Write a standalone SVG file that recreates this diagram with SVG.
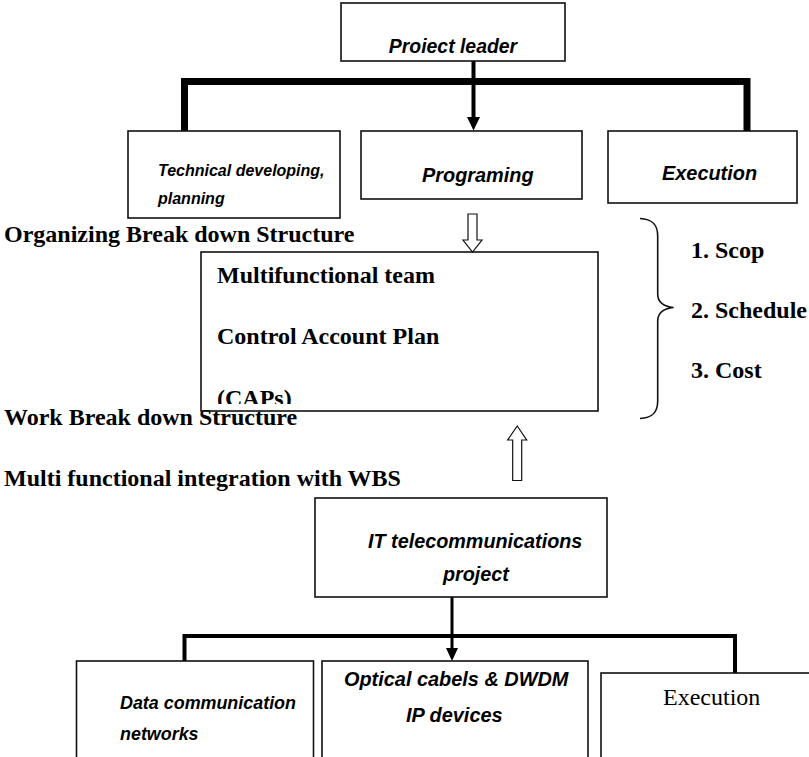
<svg xmlns="http://www.w3.org/2000/svg" width="809" height="757" viewBox="0 0 809 757">
<style>
.box{fill:#fff;stroke:#111;stroke-width:1.6}
.sans{font-family:"Liberation Sans",Arial,sans-serif;font-weight:bold;font-style:italic;fill:#000}
.serif{font-family:"Liberation Serif","Times New Roman",serif;font-weight:bold;font-size:24px;fill:#000}
.bar{fill:none;stroke:#000;stroke-linejoin:miter}
.hollow{fill:#fff;stroke:#111;stroke-width:1.2}
</style>
<defs>
<marker id="ah" viewBox="0 0 12 13" refX="6" refY="13" markerWidth="12" markerHeight="13" markerUnits="userSpaceOnUse" orient="auto-start-reverse">
<path d="M0,0 L12,0 L6,13 Z" fill="#000"/>
</marker>
<clipPath id="clipCaps"><rect x="201" y="252" width="397" height="152"/></clipPath>
</defs>
<rect width="809" height="757" fill="#fff"/>

<g id="connectors">
<path class="bar" stroke-width="7" d="M184.5,131 V81.5 H747 V131"/>
<line x1="473.5" y1="61" x2="473.5" y2="117" stroke="#000" stroke-width="4"/>
<path d="M467,117 L480,117 L473.5,130.5 Z" fill="#000"/>
<path class="bar" stroke-width="4" d="M184.5,661 V636 H735 V673"/>
<line x1="452" y1="597" x2="452" y2="648" stroke="#000" stroke-width="3"/>
<path d="M446,648 L458,648 L452,661 Z" fill="#000"/>
<path class="hollow" d="M468,214 H477 V240 H482 L472.5,252 L463,240 H468 Z"/>
<path class="hollow" d="M512.7,480.5 H521.7 V440 H526.7 L517.2,426 L507.7,440 H512.7 Z"/>
<path d="M640,218.5 C652,219 657.7,224 657.7,236 V294 C657.7,302 664,306.5 673.5,307.5 C664,308.5 657.7,313 657.7,321 V401 C657.7,413 652,418 640,418.5" fill="none" stroke="#111" stroke-width="1.6"/>
</g>

<g id="project-leader">
<rect class="box" x="341" y="3" width="224" height="58"/>
<text class="sans" x="453" y="53" font-size="19.4" text-anchor="middle">Proiect leader</text>
</g>

<g id="technical">
<rect class="box" x="128" y="131" width="212" height="87"/>
<text class="sans" x="158" y="176" font-size="16">Technical developing,</text>
<text class="sans" x="158" y="204" font-size="16">planning</text>
</g>

<g id="programing">
<rect class="box" x="361" y="131" width="221" height="68"/>
<text class="sans" x="422" y="182" font-size="19.9">Programing</text>
</g>

<g id="execution-top">
<rect class="box" x="608" y="131" width="189" height="72"/>
<text class="sans" x="662" y="180" font-size="19.9">Execution</text>
</g>

<g id="labels">
<text class="serif" x="4" y="242">Organizing Break down Structure</text>
<text class="serif" x="4" y="425">Work Break down Structure</text>
<text class="serif" x="4" y="486">Multi functional integration with WBS</text>
</g>

<g id="cap-box">
<rect class="box" x="201" y="252" width="397" height="159" fill="none" style="fill:none"/>
<text class="serif" x="217" y="283">Multifunctional team</text>
<text class="serif" x="217" y="344">Control Account Plan</text>
<text class="serif" x="217" y="406" clip-path="url(#clipCaps)">(CAPs)</text>
</g>

<g id="constraints">
<text class="serif" x="691" y="258">1. Scop</text>
<text class="serif" x="691" y="318">2. Schedule</text>
<text class="serif" x="691" y="378">3. Cost</text>
</g>

<g id="it-project">
<rect class="box" x="315" y="498" width="292" height="99"/>
<text class="sans" x="368" y="548" font-size="19.8">IT telecommunications</text>
<text class="sans" x="443" y="581" font-size="19.8">project</text>
</g>

<g id="data-comm">
<rect class="box" x="76.5" y="661" width="237" height="110"/>
<text class="sans" x="120" y="709" font-size="17.9">Data communication</text>
<text class="sans" x="120" y="740" font-size="17.9">networks</text>
</g>

<g id="optical">
<rect class="box" x="322" y="661" width="266" height="110"/>
<text class="sans" x="344" y="686" font-size="19.9">Optical cabels &amp; DWDM</text>
<text class="sans" x="406" y="722" font-size="19.9">IP devices</text>
</g>

<g id="execution-bottom">
<rect class="box" x="601" y="673" width="220" height="100"/>
<text x="663" y="705" font-family="'Liberation Serif','Times New Roman',serif" font-size="24" fill="#000">Execution</text>
</g>
</svg>
